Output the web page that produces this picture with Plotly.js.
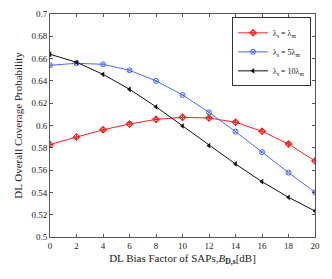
<!DOCTYPE html>
<html><head><meta charset="utf-8">
<script src="https://cdn.plot.ly/plotly-3.0.1.min.js"></script>
<style>html,body{margin:0;padding:0;background:#fff;}#c{width:332px;height:279px;}</style>
</head><body><div id="c"></div>
<script>
const biasDb = [0, 2, 4, 6, 8, 10, 12, 14, 16, 18, 20];
const covEqual = [0.583, 0.5897, 0.5962, 0.6013, 0.6055, 0.6073, 0.6067, 0.6029, 0.5948, 0.5834, 0.5682];
const cov5x = [0.654, 0.6558, 0.6549, 0.6495, 0.640, 0.6274, 0.6118, 0.5945, 0.5762, 0.5577, 0.5401];
const cov10x = [0.6639, 0.6567, 0.6459, 0.6325, 0.6168, 0.5996, 0.5819, 0.5655, 0.5496, 0.5356, 0.5233];
const seriesNames = ['λ<sub>s</sub> = λ<sub>m</sub>', 'λ<sub>s</sub> = 5λ<sub>m</sub>', 'λ<sub>s</sub> = 10λ<sub>m</sub>'];

const traces = [
  {x: biasDb, y: covEqual, name: seriesNames[0], mode: 'lines+markers',
   line: {color: '#ff2020', width: 1}, marker: {symbol: 'diamond-cross-open', size: 5, color: '#ff2020', line: {width: 1.1}}},
  {x: biasDb, y: cov5x, name: seriesNames[1], mode: 'lines+markers',
   line: {color: '#4a6cff', width: 1}, marker: {symbol: 'circle-x-open', size: 5, color: '#4a6cff', line: {width: 1}}},
  {x: biasDb, y: cov10x, name: seriesNames[2], mode: 'lines+markers',
   line: {color: '#111111', width: 1}, marker: {symbol: 'triangle-left', size: 5, color: '#111111'}}
];

const axisCommon = {showgrid: false, zeroline: false, showline: true, mirror: 'ticks',
  linecolor: '#555', linewidth: 1, ticks: 'inside', ticklen: 3, tickcolor: '#555',
  tickfont: {family: 'Liberation Serif, Times New Roman, serif', size: 9, color: '#222'}};

const layout = {
  width: 332, height: 279,
  margin: {l: 50, r: 17, t: 14, b: 42},
  paper_bgcolor: '#fff', plot_bgcolor: '#fff',
  font: {family: 'Liberation Serif, Times New Roman, serif', color: '#222'},
  showlegend: true,
  legend: {x: 0.985, y: 0.985, xanchor: 'right', yanchor: 'top',
    bgcolor: '#fff', bordercolor: '#333', borderwidth: 1,
    font: {family: 'Liberation Serif, serif', size: 8, color: '#222'},
    tracegroupgap: 0, itemwidth: 30},
  xaxis: Object.assign({}, axisCommon, {range: [0, 20], dtick: 2, tick0: 0,
    title: {text: 'DL Bias Factor of SAPs,<i>B</i><sub><b>D,s</b></sub>[dB]', standoff: 4,
      font: {family: 'Liberation Serif, serif', size: 11, color: '#222'}}}),
  yaxis: Object.assign({}, axisCommon, {range: [0.5, 0.7], dtick: 0.02, tick0: 0.5,
    title: {text: 'DL Overall Coverage Probability', standoff: 6,
      font: {family: 'Liberation Serif, serif', size: 11, color: '#222'}}})
};

Plotly.newPlot('c', traces, layout, {displayModeBar: false, staticPlot: true});
</script></body></html>
